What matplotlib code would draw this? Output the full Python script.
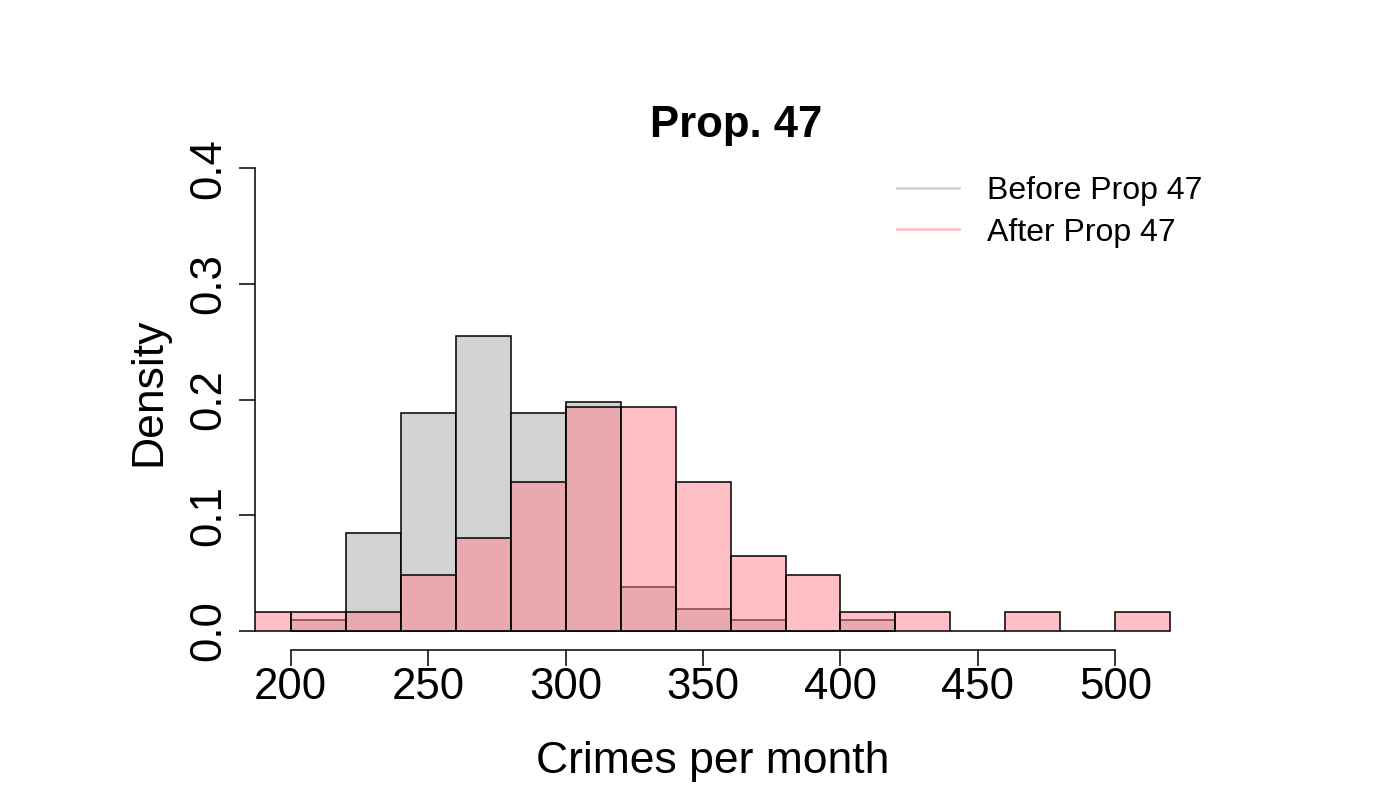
import matplotlib
matplotlib.use("Agg")
import matplotlib.pyplot as plt
from matplotlib.lines import Line2D
import numpy as np

plt.rcParams['font.family'] = ['Liberation Sans', 'DejaVu Sans']

# Data (densities)
before_edges = list(range(200, 421, 20))
before_density = [0.0094, 0.0849, 0.1887, 0.2547, 0.1887, 0.1981, 0.0377, 0.0189, 0.0094, 0.0, 0.0094]
after_edges = list(range(180, 521, 20))
after_density = [0.0161, 0.0161, 0.0161, 0.0484, 0.0806, 0.1290, 0.1935, 0.1935, 0.1290,
                 0.0645, 0.0484, 0.0161, 0.0161, 0.0, 0.0161, 0.0, 0.0161]
x_ticks = [200, 250, 300, 350, 400, 450, 500]
y_ticks = [0.0, 0.1, 0.2, 0.3, 0.4]
y_ticklabels = ["0.0", "0.1", "0.2", "0.3", "0.4"]
legend_labels = ["Before Prop 47", "After Prop 47"]

grey = "#D3D3D3"
pink_rgba = (1.0, 0.506, 0.545, 0.5)
pink_solid = "#FFC0C5"

fig = plt.figure(figsize=(14, 8), dpi=100)
ax = fig.add_axes([0.18214, 0.1875, 0.655, 0.62525])

ax.bar(before_edges[:-1], before_density, width=20, align='edge',
       facecolor=grey, edgecolor='black', linewidth=1.1)
ax.bar(after_edges[:-1], after_density, width=20, align='edge',
       facecolor=pink_rgba, edgecolor='black', linewidth=1.1)

ax.set_xlim(187.0, 520.6)
ax.set_ylim(-0.0164, 0.416)

for s in ['top', 'right']:
    ax.spines[s].set_visible(False)
ax.spines['bottom'].set_bounds(200, 500)
ax.spines['left'].set_bounds(0, 0.4)
for s in ['bottom', 'left']:
    ax.spines[s].set_linewidth(1.1)

ax.set_xticks(x_ticks)
ax.set_xticklabels([str(v) for v in x_ticks])
ax.set_yticks(y_ticks)
ax.set_yticklabels(y_ticklabels, rotation=90, va='center')
ax.tick_params(axis='both', direction='out', length=11.5, width=1.1, labelsize=31.5)
ax.tick_params(axis='x', pad=1)
ax.tick_params(axis='y', pad=7)

ax.set_xlabel("Crimes per month", fontsize=32, va='baseline')
ax.xaxis.set_label_coords(0.4989, -0.2459)
ax.set_ylabel("Density", fontsize=32, va='baseline')
ax.yaxis.set_label_coords(-0.1036, 0.5168)

fig.text(0.526, 0.82875, "Prop. 47", fontsize=31.5, fontweight='bold',
         ha='center', va='baseline')

handles = [Line2D([0], [0], color=grey, lw=2),
           Line2D([0], [0], color=pink_solid, lw=2)]
ax.legend(handles, legend_labels, loc='upper left', bbox_to_anchor=(0.6407, 0.78),
          bbox_transform=fig.transFigure, frameon=False, fontsize=23,
          handlelength=1.94, handletextpad=0.875, labelspacing=0.36,
          borderpad=0, borderaxespad=0)

fig.savefig("out.png", dpi=100)
